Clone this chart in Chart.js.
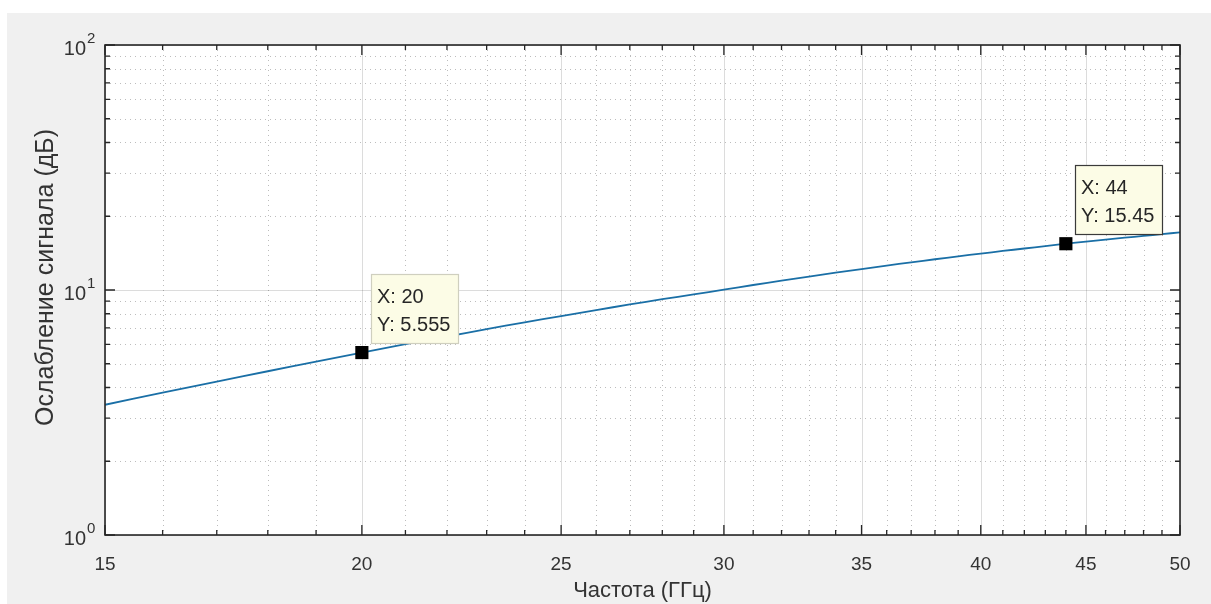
<!DOCTYPE html>
<html><head><meta charset="utf-8">
<script src="https://cdn.jsdelivr.net/npm/chart.js@4/dist/chart.umd.min.js"></script>
<style>html,body{margin:0;padding:0;background:#fff;}#wrap{width:1211px;height:604px;position:relative;}</style>
</head><body><div id="wrap"><canvas id="c"></canvas></div>
<script>
// ---- data ----
const freqGHz = [15,16,17,18,19,20,21,22,23,24,25,26,27,28,29,30,31,32,33,34,35,36,37,38,39,40,41,42,43,44,45,46,47,48,49,50];
const attenDb = [3.40,3.81,4.23,4.66,5.10,5.555,6.01,6.46,6.92,7.38,7.83,8.28,8.73,9.17,9.60,10.03,10.48,10.92,11.35,11.77,12.18,12.58,12.97,13.35,13.72,14.08,14.43,14.77,15.10,15.45,15.76,16.06,16.35,16.63,16.91,17.18];
const xMajorTicks = [15,20,25,30,35,40,45,50];
const xMinorTicks = [16,17,18,19,21,22,23,24,26,27,28,29,31,32,33,34,36,37,38,39,41,42,43,44,46,47,48,49];
const yMajorTicks = [1,10,100];
const yMinorTicks = [2,3,4,5,6,7,8,9,20,30,40,50,60,70,80,90];
const tipX = [20,44];
const tipY = [5.555,15.45];
const tipTextX = ['X: 20','X: 44'];
const tipTextY = ['Y: 5.555','Y: 15.45'];
const xTitle = 'Частота (ГГц)';
const yTitle = 'Ослабление сигнала (дБ)';

const FONT = '"Liberation Sans", Arial, Helvetica, sans-serif';
const TXT = '#333333';

const matlabPlugin = {
  id: 'matlabFrame',
  beforeDraw(chart) {
    const {ctx, chartArea: a} = chart;
    const xs = chart.scales.x, ys = chart.scales.y;
    ctx.save();
    ctx.fillStyle = '#ffffff'; ctx.fillRect(0, 0, chart.width, chart.height);
    ctx.fillStyle = '#f0f0f0'; ctx.fillRect(7, 13, chart.width - 7, chart.height - 13);
    ctx.fillStyle = '#ffffff'; ctx.fillRect(a.left, a.top, a.right - a.left, a.bottom - a.top);
    ctx.lineWidth = 1;
    ctx.strokeStyle = 'rgba(38,38,38,0.30)';
    ctx.setLineDash([1, 4]);
    ctx.beginPath();
    xMinorTicks.forEach(v => { const p = Math.round(xs.getPixelForValue(v)) + 0.5; ctx.moveTo(p, a.top); ctx.lineTo(p, a.bottom); });
    yMinorTicks.forEach(v => { const p = Math.round(ys.getPixelForValue(v)) + 0.5; ctx.moveTo(a.left, p); ctx.lineTo(a.right, p); });
    ctx.stroke();
    ctx.setLineDash([]);
    ctx.strokeStyle = 'rgba(38,38,38,0.16)';
    ctx.beginPath();
    xMajorTicks.forEach(v => { const p = Math.round(xs.getPixelForValue(v)) + 0.5; ctx.moveTo(p, a.top); ctx.lineTo(p, a.bottom); });
    yMajorTicks.forEach(v => { const p = Math.round(ys.getPixelForValue(v)) + 0.5; ctx.moveTo(a.left, p); ctx.lineTo(a.right, p); });
    ctx.stroke();
    ctx.restore();
  },
  afterDatasetsDraw(chart) {
    const {ctx, chartArea: a} = chart;
    const xs = chart.scales.x, ys = chart.scales.y;
    ctx.save();
    ctx.strokeStyle = '#262626';
    ctx.lineWidth = 1.6;
    ctx.strokeRect(a.left, a.top, a.right - a.left, a.bottom - a.top);
    ctx.lineWidth = 1.3;
    ctx.beginPath();
    const tx = (v, len) => { const p = xs.getPixelForValue(v); ctx.moveTo(p, a.bottom); ctx.lineTo(p, a.bottom - len); ctx.moveTo(p, a.top); ctx.lineTo(p, a.top + len); };
    const ty = (v, len) => { const p = ys.getPixelForValue(v); ctx.moveTo(a.left, p); ctx.lineTo(a.left + len, p); ctx.moveTo(a.right, p); ctx.lineTo(a.right - len, p); };
    xMajorTicks.forEach(v => tx(v, 10));
    xMinorTicks.forEach(v => tx(v, 5));
    yMajorTicks.forEach(v => ty(v, 10));
    yMinorTicks.forEach(v => ty(v, 5));
    ctx.stroke();
    ctx.fillStyle = TXT;
    ctx.textBaseline = 'middle';
    yMajorTicks.forEach(v => {
      const p = ys.getPixelForValue(v);
      const e = Math.round(Math.log10(v));
      ctx.font = '20px ' + FONT; ctx.textAlign = 'right';
      ctx.fillText('10', 86, p + 4);
      ctx.font = '15px ' + FONT; ctx.textAlign = 'left';
      ctx.fillText(String(e), 87, p - 6);
    });
    tipX.forEach((xv, i) => {
      const px = xs.getPixelForValue(xv), py = ys.getPixelForValue(tipY[i]);
      const L = Math.round(px) + 9, B = Math.round(py) - 10, W = 87, H = 69, T = B - H;
      ctx.fillStyle = '#fcfce6';
      ctx.fillRect(L, T, W, H);
      ctx.lineWidth = 1.2;
      ctx.strokeStyle = i === 1 ? '#3a3a3a' : '#cfcfbf';
      ctx.strokeRect(L + 0.5, T + 0.5, W, H);
      ctx.fillStyle = '#262626';
      ctx.font = '20px ' + FONT; ctx.textAlign = 'left'; ctx.textBaseline = 'middle';
      ctx.fillText(tipTextX[i], L + 6, T + 23);
      ctx.fillText(tipTextY[i], L + 6, T + 51);
    });
    ctx.restore();
  }
};

new Chart(document.getElementById('c'), {
  data: {
    datasets: [
      { type: 'scatter', data: tipX.map((x, i) => ({x, y: tipY[i]})), pointStyle: 'rect', pointRadius: 9.3, pointBackgroundColor: '#000', pointBorderWidth: 0, order: 0 },
      { type: 'line', data: freqGHz.map((x, i) => ({x, y: attenDb[i]})), borderColor: '#1a6fa6', borderWidth: 1.8, pointRadius: 0, fill: false, tension: 0.2, order: 1 }
    ]
  },
  options: {
    responsive: true, maintainAspectRatio: false, animation: false, events: [],
    layout: { padding: { left: 0, top: 45, right: 31, bottom: 0 } },
    plugins: { legend: { display: false }, tooltip: { enabled: false } },
    scales: {
      x: {
        type: 'logarithmic', position: 'bottom', min: 15, max: 50,
        afterBuildTicks: s => { s.ticks = xMajorTicks.map(v => ({value: v})); },
        afterFit: s => { s.height = 69; },
        grid: { display: false, drawTicks: false }, border: { display: false },
        ticks: { autoSkip: false, maxRotation: 0, padding: 18, color: TXT, font: { family: FONT, size: 19 }, callback: v => String(v) },
        title: { display: true, text: xTitle, color: TXT, font: { family: FONT, size: 22 }, padding: { top: 0, bottom: 0 } }
      },
      y: {
        type: 'logarithmic', position: 'left', min: 1, max: 100,
        afterBuildTicks: s => { s.ticks = yMajorTicks.map(v => ({value: v})); },
        afterFit: s => { s.width = 105; },
        grid: { display: false, drawTicks: false }, border: { display: false },
        ticks: { display: false },
        title: { display: true, text: '\u2002\u2002' + yTitle, color: TXT, font: { family: FONT, size: 25 }, padding: { top: 31, bottom: 0 } }
      }
    }
  },
  plugins: [matlabPlugin]
});
</script></body></html>
